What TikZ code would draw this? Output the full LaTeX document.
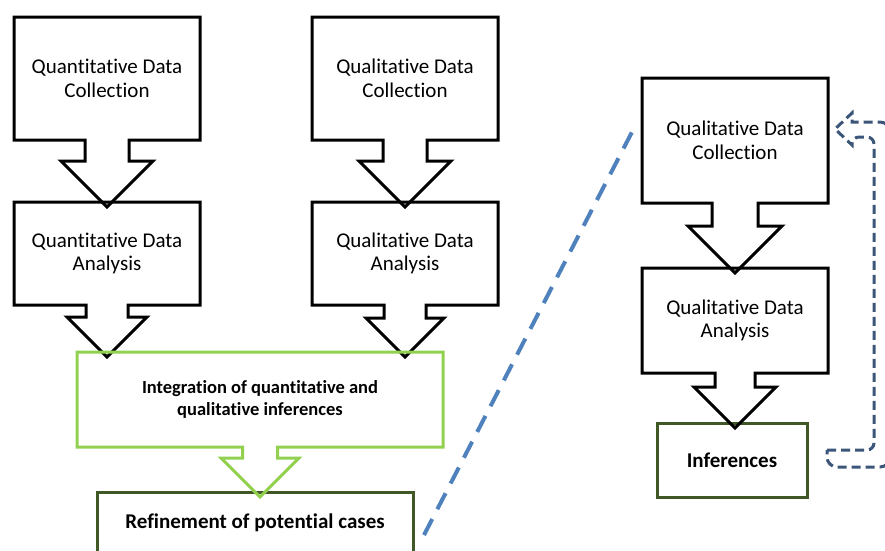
\documentclass[tikz,border=0pt]{standalone}
\usepackage{fontspec}
\setmainfont[Ligatures=NoCommon]{Carlito}
\usetikzlibrary{positioning,calc}
\definecolor{lightgrn}{RGB}{146,208,80}
\definecolor{darkgrn}{RGB}{64,88,38}
\definecolor{dashblue}{RGB}{79,129,189}
\definecolor{loopblue}{RGB}{59,86,120}
\tikzstyle{stage} = [rectangle, minimum width=186pt, inner sep=0pt, outer sep=0pt, align=center, font=\fontsize{21}{23.5}\selectfont]
\tikzstyle{merge} = [rectangle, inner sep=0pt, outer sep=0pt, align=center, font=\fontsize{18.5}{22}\selectfont\bfseries]
\tikzstyle{result} = [rectangle, draw=darkgrn, line width=3pt, inner sep=0pt, outer sep=0pt, align=center, font=\fontsize{21}{24}\selectfont\bfseries]
\tikzstyle{outline} = [line width=3pt, line join=miter]
\tikzstyle{split} = [draw=dashblue, line width=4pt, dash pattern=on 18pt off 11pt]
\tikzstyle{loop} = [draw=loopblue, line width=3pt, dash pattern=on 9pt off 5pt]

% box outline with a block arrow down to the next box
\newcommand{\dropbox}[5]{%
 \draw[outline, draw=#5] (#1.south west) -- (#1.north west) -- (#1.north east) -- (#1.south east)
  -- ($(#1.south)+(#3,0)$) -- ($(#1.south |- #2.north)+(#3,5-#4)$) -- ($(#1.south |- #2.north)+(#4,5-#4)$)
  -- ($(#1.south |- #2.north)+(0,5)$) -- ($(#1.south |- #2.north)+(-#4,5-#4)$) -- ($(#1.south |- #2.north)+(-#3,5-#4)$)
  -- ($(#1.south)+(-#3,0)$) -- cycle;}

\begin{document}
\begin{tikzpicture}[x=1pt, y=-1pt]
\useasboundingbox (0,0) rectangle (885,550);
\clip (0,0) rectangle (885,550);

 \node (qncoll) [stage, minimum height=123pt] at (107,78.5) {Quantitative Data\\Collection};
 \node (qnanal) [stage, minimum height=103pt] at (107,253.5) {Quantitative Data\\Analysis};
 \node (qlcoll) [stage, minimum height=123pt] at (405,78.5) {Qualitative Data\\Collection};
 \node (qlanal) [stage, minimum height=103pt] at (405,253.5) {Qualitative Data\\Analysis};
 \node (integ) [merge, minimum width=366pt, minimum height=95pt] at (260,399.5) {Integration of quantitative and\\qualitative inferences};
 \node (refine) [result, minimum width=316pt, minimum height=62pt] at (255,523) {Refinement of potential cases};

 \node (rcoll) [stage, minimum height=125pt] at (735,140.5) {Qualitative Data\\Collection};
 \node (ranal) [stage, minimum height=105pt] at (735,320.5) {Qualitative Data\\Analysis};
 \node (infer) [result, minimum width=150pt, minimum height=74pt] at (732,460) {Inferences};

 \dropbox{qncoll}{qnanal}{22}{46}{black}
 \dropbox{qnanal}{integ}{21}{40}{black}
 \dropbox{qlcoll}{qlanal}{22}{46}{black}
 \dropbox{qlanal}{integ}{21}{39}{black}
 \dropbox{integ}{refine}{17.5}{39}{lightgrn}
 \dropbox{rcoll}{ranal}{23}{47}{black}
 \dropbox{ranal}{infer}{20}{41}{black}

 % dashed split line
 \coordinate (splittop) at (632,132);
 \coordinate (splitbot) at (424,535);
 \draw[split] (splitbot) -- (splittop);

 % loop back arrow
 \draw[loop] ($(infer.east)+(20,-10)$) [rounded corners=7pt] -- (874,450) -- (874,137) -- (852,137)
  [sharp corners] -- (852,145) -- (835,129) -- (852,113) -- (852,122)
  [rounded corners=10pt] -- (890,122) -- (890,467) -- (827,467) [sharp corners] -- cycle;
\end{tikzpicture}
\end{document}
